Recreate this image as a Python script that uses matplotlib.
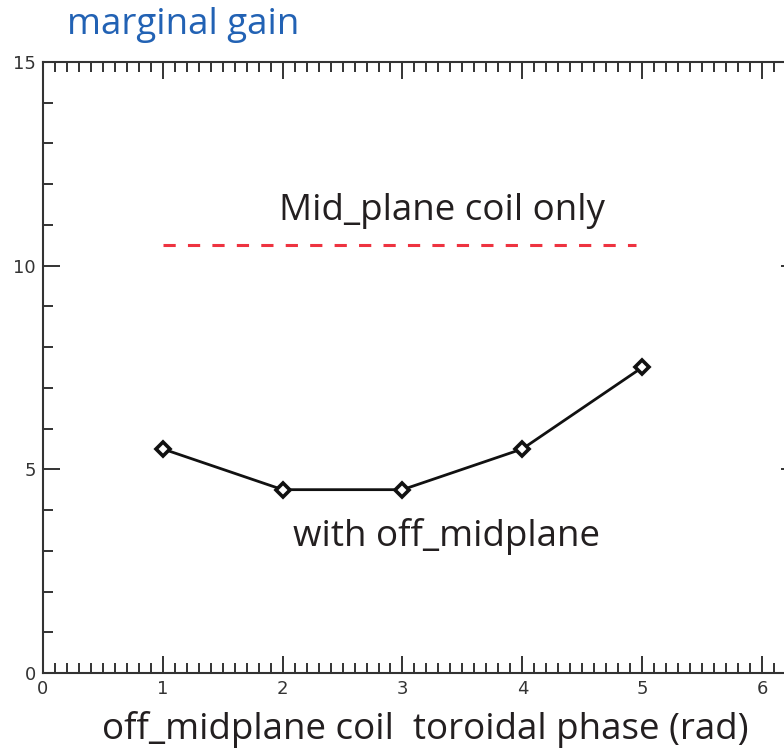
import matplotlib.pyplot as plt
from matplotlib.ticker import MultipleLocator

# toroidal phase of the off-midplane coil (rad) and marginal gain
phase = [1, 2, 3, 4, 5]
gain_with_off = [5.5, 4.5, 4.5, 5.5, 7.5]

# reference level with the mid-plane coil alone
midplane_gain = 10.5
midplane_span = [1, 4.95]

TEXT_FONT = ["Open Sans", "DejaVu Sans"]
TICK_FONT = ["Liberation Sans Narrow", "DejaVu Sans"]

fig = plt.figure(figsize=(7.84, 7.51), dpi=100)
ax = fig.add_axes([0.0548, 0.1039, 0.963, 0.8136])

ax.plot(midplane_span, [midplane_gain, midplane_gain], color="#ee3340",
        linewidth=2.2, dashes=(4, 4))
ax.plot(phase, gain_with_off, color="#111111", linewidth=2.0,
        marker="D", markersize=7.5, markerfacecolor="white",
        markeredgecolor="#111111", markeredgewidth=2.6)

ax.set_xlim(0, 6.3)
ax.set_ylim(0, 15)
ax.xaxis.set_major_locator(MultipleLocator(1))
ax.xaxis.set_minor_locator(MultipleLocator(0.1))
ax.yaxis.set_major_locator(MultipleLocator(5))
ax.yaxis.set_minor_locator(MultipleLocator(1))

ax.tick_params(which="both", direction="in", top=True, right=True,
               color="#333333", width=1.4)
ax.tick_params(which="major", length=12, labelsize=13, labelcolor="#333333", pad=5)
ax.tick_params(which="minor", length=7)
for lab in ax.get_xticklabels() + ax.get_yticklabels():
    lab.set_family(TICK_FONT)
for sp in ax.spines.values():
    sp.set_color("#333333")
    sp.set_linewidth(1.5)

ax.text(3.33, 11.35, "Mid_plane coil only", ha="center", va="center",
        fontsize=26.5, color="#231f20", family=TEXT_FONT)
ax.text(3.37, 3.34, "with off_midplane", ha="center", va="center",
        fontsize=26.5, color="#231f20", family=TEXT_FONT)

fig.text(67 / 784, 1 - 25 / 751, "marginal gain", ha="left", va="center",
         fontsize=26.5, color="#2262b4", family=TEXT_FONT)
fig.text(425 / 784, 1 - 730 / 751, "off_midplane coil  toroidal phase (rad)",
         ha="center", va="center", fontsize=26.5, color="#231f20", family=TEXT_FONT)

fig.savefig("out.png", dpi=100)
